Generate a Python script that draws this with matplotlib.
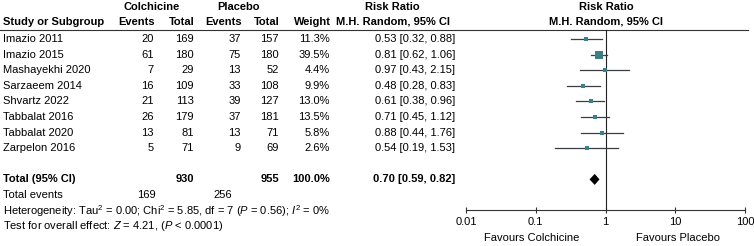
import matplotlib
matplotlib.use("Agg")
import matplotlib.pyplot as plt
import numpy as np

plt.rcParams['font.family'] = ['Liberation Sans', 'DejaVu Sans']
plt.rcParams['mathtext.fontset'] = 'custom'
plt.rcParams['mathtext.rm'] = 'Liberation Sans'
plt.rcParams['mathtext.it'] = 'Liberation Sans:italic'
plt.rcParams['mathtext.bf'] = 'Liberation Sans:bold'

# ---- data ----
studies = ["Imazio 2011", "Imazio 2015", "Mashayekhi 2020", "Sarzaeem 2014",
           "Shvartz 2022", "Tabbalat 2016", "Tabbalat 2020", "Zarpelon 2016"]
col_events = [20, 61, 7, 16, 21, 26, 13, 5]
col_total = [169, 180, 29, 109, 113, 179, 81, 71]
pla_events = [37, 75, 13, 33, 39, 37, 13, 9]
pla_total = [157, 180, 52, 108, 127, 181, 71, 69]
weights = [11.3, 39.5, 4.4, 9.9, 13.0, 13.5, 5.8, 2.6]
rr = [0.53, 0.81, 0.97, 0.48, 0.61, 0.71, 0.88, 0.54]
rr_lo = [0.32, 0.62, 0.43, 0.28, 0.38, 0.45, 0.44, 0.19]
rr_hi = [0.88, 1.06, 2.15, 0.83, 0.96, 1.12, 1.76, 1.53]
total_col_n, total_pla_n = 930, 955
total_col_ev, total_pla_ev = 169, 256
total_rr, total_lo, total_hi = 0.70, 0.59, 0.82
tau2, chi2, df, p_het, i2 = 0.00, 5.85, 7, 0.56, 0
z_val, p_overall = 4.21, "< 0.0001"
xticks = [0.01, 0.1, 1, 10, 100]
xticklabels = ["0.01", "0.1", "1", "10", "100"]

W, H = 754, 246
FS = 8.0
fig = plt.figure(figsize=(W / 100, H / 100), dpi=100)
ax = fig.add_axes([0, 0, 1, 1])
ax.set_xlim(0, W)
ax.set_ylim(H, 0)
ax.axis('off')

def row_y(i):
    return 39 + 15.6 * i

# headers
ax.text(152, 7, "Colchicine", ha='center', va='center', fontsize=FS, fontweight='bold')
ax.text(238, 7, "Placebo", ha='center', va='center', fontsize=FS, fontweight='bold')
ax.text(392, 7, "Risk Ratio", ha='center', va='center', fontsize=FS, fontweight='bold')
ax.text(606, 7, "Risk Ratio", ha='center', va='center', fontsize=FS, fontweight='bold')
ax.text(3, 22, "Study or Subgroup", ha='left', va='center', fontsize=FS, fontweight='bold')
for x, t in [(155, "Events"), (195, "Total"), (242, "Events"), (280, "Total"), (331, "Weight")]:
    ax.text(x, 22, t, ha='right', va='center', fontsize=FS, fontweight='bold')
ax.text(393, 22, "M.H. Random, 95% CI", ha='center', va='center', fontsize=FS, fontweight='bold')
ax.text(606, 22, "M.H. Random, 95% CI", ha='center', va='center', fontsize=FS, fontweight='bold')
ax.plot([0, 748], [29.5, 29.5], color='#333333', lw=0.8)

for i, s in enumerate(studies):
    y = row_y(i)
    ax.text(3, y, s, ha='left', va='center', fontsize=FS)
    ax.text(154, y, str(col_events[i]), ha='right', va='center', fontsize=FS)
    ax.text(194, y, str(col_total[i]), ha='right', va='center', fontsize=FS)
    ax.text(241, y, str(pla_events[i]), ha='right', va='center', fontsize=FS)
    ax.text(279, y, str(pla_total[i]), ha='right', va='center', fontsize=FS)
    ax.text(330, y, f"{weights[i]:.1f}%", ha='right', va='center', fontsize=FS)
    ax.text(455, y, f"{rr[i]:.2f} [{rr_lo[i]:.2f}, {rr_hi[i]:.2f}]", ha='right', va='center', fontsize=FS)

yt = row_y(9)
ax.text(3, yt, "Total (95% CI)", ha='left', va='center', fontsize=FS, fontweight='bold')
ax.text(194, yt, str(total_col_n), ha='right', va='center', fontsize=FS, fontweight='bold')
ax.text(279, yt, str(total_pla_n), ha='right', va='center', fontsize=FS, fontweight='bold')
ax.text(330, yt, f"{sum(weights):.1f}%", ha='right', va='center', fontsize=FS, fontweight='bold')
ax.text(455, yt, f"{total_rr:.2f} [{total_lo:.2f}, {total_hi:.2f}]", ha='right', va='center', fontsize=FS, fontweight='bold')

ye = 195
ax.text(3, ye, "Total events", ha='left', va='center', fontsize=FS)
ax.text(156, ye, str(total_col_ev), ha='right', va='center', fontsize=FS)
ax.text(232, ye, str(total_pla_ev), ha='right', va='center', fontsize=FS)
ax.text(3, 211, f"Heterogeneity: Tau$^2$ = {tau2:.2f}; Chi$^2$ = {chi2:.2f}, df = {df} ($P$ = {p_het:.2f}); $I^2$ = {i2}%",
        ha='left', va='center', fontsize=FS)
ax.text(3, 226, f"Test for overall effect: $Z$ = {z_val:.2f}, ($P$ {p_overall})", ha='left', va='center', fontsize=FS)

# forest axes
x0, x1 = 466, 745
fax = fig.add_axes([x0 / W, 0, (x1 - x0) / W, 1])
fax.set_xscale('log')
fax.set_xlim(0.01, 100)
fax.set_ylim(H, 0)
fax.patch.set_alpha(0)
for sp in ['top', 'left', 'right']:
    fax.spines[sp].set_visible(False)
fax.spines['bottom'].set_position(('data', 210))
fax.spines['bottom'].set_color('#333333')
fax.spines['bottom'].set_linewidth(0.8)
fax.set_yticks([])
fax.set_xticks(xticks)
fax.set_xticklabels(xticklabels, fontsize=FS)
fax.xaxis.set_minor_locator(matplotlib.ticker.NullLocator())
fax.tick_params(axis='x', direction='inout', length=5, width=0.8, color='#333333', pad=2.5)
fax.plot([1, 1], [29.5, 210], color='#222222', lw=0.8)

teal = '#3b8087'
for i in range(len(studies)):
    y = row_y(i)
    fax.plot([rr_lo[i], rr_hi[i]], [y, y], color='#3a3f44', lw=0.9)
    side_px = max(4.5, 1.3 * np.sqrt(weights[i]))
    fax.plot([rr[i]], [y], marker='s', ms=side_px * 0.72, color=teal, mec=teal, mew=0)

dh = 5.5
fax.fill([total_lo, total_rr, total_hi, total_rr], [yt, yt - dh, yt, yt + dh], color='black', lw=0)

ax.text(532, 238, "Favours Colchicine", ha='center', va='center', fontsize=FS)
ax.text(678, 238, "Favours Placebo", ha='center', va='center', fontsize=FS)

fig.savefig("out.png", dpi=100)
